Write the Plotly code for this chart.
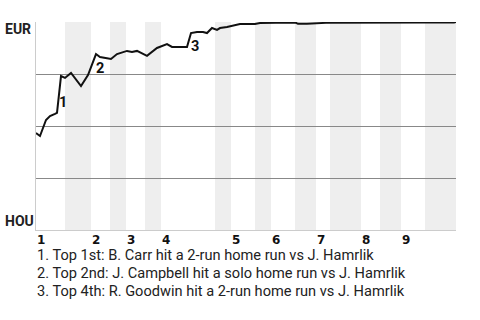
import plotly.graph_objects as go

# Event index (x) and EUR win probability (p)
event_x = [0, 0.8, 2.0, 2.8, 3.8, 4.2, 5.0, 5.8, 7.0, 9.0, 10.4, 12.0, 12.8, 15.0, 16.2,
           18.2, 19.2, 20.2, 22.2, 23.2, 24.2, 26.2, 27.2, 30.2, 31.0, 32.2, 33.4, 34.2,
           35.2, 36.2, 36.8, 38.2, 39.4, 40.8, 43.8, 44.8, 48.0, 52.0, 52.4, 54.2, 58.0,
           62.0, 66.0, 70.0, 74.0, 78.0, 83.6, 84.0]
eur_prob = [0.466, 0.452, 0.529, 0.548, 0.558, 0.563, 0.740, 0.731, 0.755, 0.692, 0.745,
            0.846, 0.832, 0.822, 0.846, 0.861, 0.856, 0.861, 0.837, 0.856, 0.875, 0.894,
            0.880, 0.880, 0.947, 0.952, 0.952, 0.947, 0.971, 0.962, 0.971, 0.976, 0.981,
            0.990, 0.990, 0.995, 0.996, 0.996, 0.991, 0.991, 0.996, 0.997, 0.997, 0.997,
            0.997, 0.998, 0.998, 1.0]

# Half-inning boundaries (bottom halves shaded)
half_starts = [0, 5.8, 11, 14.8, 18, 21.8, 25, 35.8, 39, 43.8, 47, 51.8, 56, 58.8, 65, 68.8, 73, 77.8]
half_ends = [5.8, 11, 14.8, 18, 21.8, 25, 35.8, 39, 43.8, 47, 51.8, 56, 58.8, 65, 68.8, 73, 77.8, 84]
inning_labels = ["1", "2", "3", "4", "5", "6", "7", "8", "9"]
inning_starts = [0, 11, 18, 25, 39, 47, 56, 65, 73]

# Marked events
event_marks = ["1", "2", "3"]
mark_x = [5.4, 12.7, 31.7]
mark_p = [0.615, 0.776, 0.880]
notes = [
    "1. Top 1st: B. Carr hit a 2-run home run vs J. Hamrlik",
    "2. Top 2nd: J. Campbell hit a solo home run vs J. Hamrlik",
    "3. Top 4th: R. Goodwin hit a 2-run home run vs J. Hamrlik",
]
teams = ["EUR", "HOU"]

FONT = "Roboto"

fig = go.Figure()
fig.add_trace(go.Scatter(x=event_x, y=eur_prob, mode="lines",
                         line=dict(color="#111111", width=2), hoverinfo="skip",
                         cliponaxis=False))

shapes = []
for i, (s, e) in enumerate(zip(half_starts, half_ends)):
    if i % 2 == 1:
        shapes.append(dict(type="rect", xref="x", yref="y", x0=s, x1=e, y0=0, y1=1,
                           fillcolor="#eeeeee", line=dict(width=0), layer="below"))

ann = []
for lab, x0 in zip(inning_labels, inning_starts):
    ann.append(dict(x=x0, y=-0.0457, xref="x", yref="paper", text=lab, showarrow=False,
                    xanchor="left", yanchor="middle", xshift=-1,
                    font=dict(family="DejaVu Sans", size=12, color="#111", weight="bold")))
for lab, x0, y0 in zip(event_marks, mark_x, mark_p):
    ann.append(dict(x=x0, y=y0, xref="x", yref="y", text=lab, showarrow=False,
                    xanchor="center", yanchor="middle",
                    font=dict(family=FONT, size=14.5, color="#111", weight="bold")))
note_y = [-0.1202, -0.2067, -0.2933]
for t, yy in zip(notes, note_y):
    ann.append(dict(x=0, y=yy, xref="paper", yref="paper", text=t, showarrow=False,
                    xanchor="left", yanchor="middle", xshift=-1,
                    font=dict(family=FONT, size=14.6, color="#222")))
ann.append(dict(x=-0.0786, y=0.966, xref="paper", yref="paper", text=teams[0], showarrow=False,
                xanchor="left", yanchor="middle",
                font=dict(family=FONT, size=14, color="#222", weight="bold")))
ann.append(dict(x=-0.0786, y=0.043, xref="paper", yref="paper", text=teams[1], showarrow=False,
                xanchor="left", yanchor="middle",
                font=dict(family=FONT, size=14, color="#222", weight="bold")))

fig.update_layout(
    width=480, height=320,
    margin=dict(l=36, r=24, t=22, b=90),
    paper_bgcolor="white", plot_bgcolor="white",
    showlegend=False,
    shapes=shapes, annotations=ann,
    xaxis=dict(range=[0, 84], showgrid=False, zeroline=False, showticklabels=False,
               showline=True, linecolor="#cccccc", linewidth=1, ticks=""),
    yaxis=dict(range=[0, 1], tickvals=[0.25, 0.5, 0.75, 1.0], showticklabels=False,
               showgrid=True, gridcolor="#888888", gridwidth=1, zeroline=False,
               showline=True, linecolor="#cccccc", linewidth=1, ticks=""),
)

fig.write_html("out.html")
